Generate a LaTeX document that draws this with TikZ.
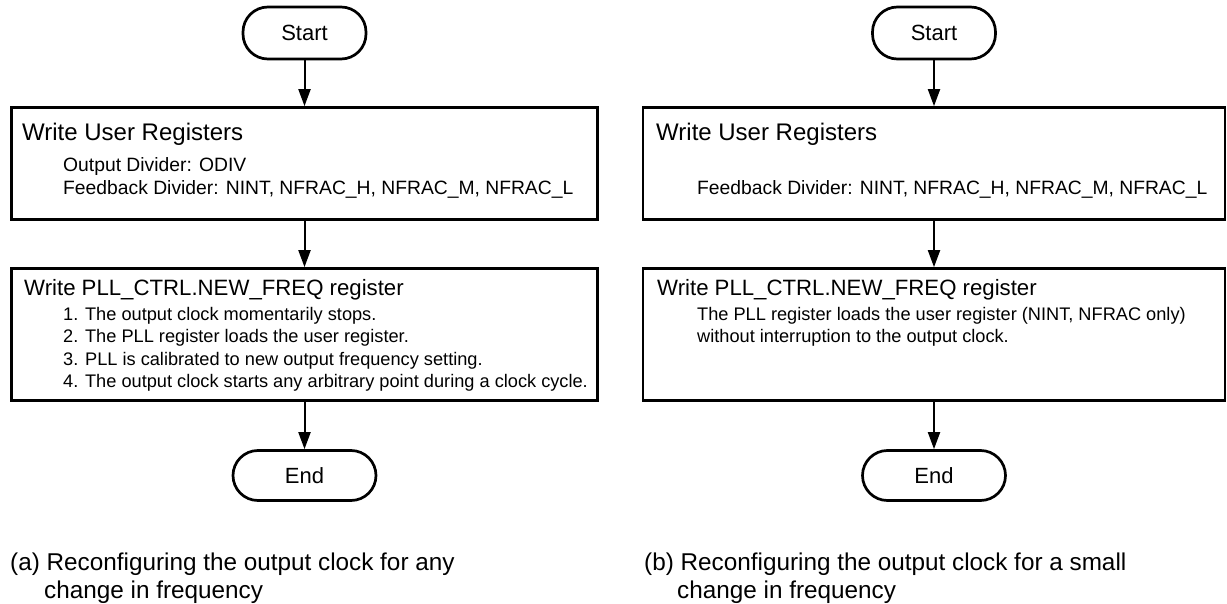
\documentclass[tikz,border=0pt]{standalone}
\usepackage{fontspec}
\setmainfont{Liberation Sans}
\usetikzlibrary{arrows.meta}
\tikzset{
  x=1pt, y=-1pt,
  pill/.style={draw, line width=2.7pt, rounded corners=25pt, inner sep=0pt,
    font=\fontsize{22}{26}\selectfont},
  stepbox/.style={draw, line width=2.7pt, inner sep=0pt},
  arr/.style={line width=2pt, -{Triangle[length=17pt,width=12pt]}},
  txt/.style={anchor=base west, inner sep=0pt},
  ttl/.style={txt, font=\fontsize{24}{28}\selectfont},
  ttlb/.style={txt, font=\fontsize{22.2}{28}\selectfont},
  body/.style={txt, font=\fontsize{18.2}{22}\selectfont},
  bodyw/.style={txt, font=\fontsize{19.3}{22}\selectfont},
  capt/.style={txt, font=\fontsize{24.3}{28}\selectfont},
}
\begin{document}
\begin{tikzpicture}
\useasboundingbox (0,0) rectangle (1227,604);
% ---------- left panel ----------
\node[pill, minimum width=123pt, minimum height=52pt] (startA) at (304.5,33) {Start};
\node[stepbox, minimum width=586pt, minimum height=112pt] (boxA1) at (304.5,163.5) {};
\node[stepbox, minimum width=586pt, minimum height=132pt] (boxA2) at (304.5,334.5) {};
\node[pill, minimum width=143pt, minimum height=50pt] (endA) at (304.5,475.5) {End};
\draw[arr] (startA) -- (boxA1);
\draw[arr] (boxA1) -- (boxA2);
\draw[arr] (boxA2) -- (endA);
\node[ttl] (tA1) at (22,140.5) {Write User Registers};
\node[bodyw] (oA) at (63,171.8) {Output Divider: ODIV};
\node[bodyw] (fA) at (63,194.8) {Feedback Divider: NINT, NFRAC\_H, NFRAC\_M, NFRAC\_L};
\node[ttlb] (tA2) at (24,295.5) {Write PLL\_CTRL.NEW\_FREQ register};
\node[body] (i1) at (63,320.6) {1. The output clock momentarily stops.};
\node[body] (i2) at (63,342.8) {2. The PLL register loads the user register.};
\node[body] (i3) at (63,365.4) {3. PLL is calibrated to new output frequency setting.};
\node[body] (i4) at (63,387.8) {4. The output clock starts any arbitrary point during a clock cycle.};
\node[capt] (cA1) at (10,570.6) {(a) Reconfiguring the output clock for any};
\node[capt] (cA2) at (44,598.4) {change in frequency};
% ---------- right panel ----------
\node[pill, minimum width=123pt, minimum height=52pt] (startB) at (934,33) {Start};
\node[stepbox, minimum width=582pt, minimum height=112pt] (boxB1) at (934,163.5) {};
\node[stepbox, minimum width=582pt, minimum height=132pt] (boxB2) at (934,334.5) {};
\node[pill, minimum width=143pt, minimum height=50pt] (endB) at (934,475.5) {End};
\draw[arr] (startB) -- (boxB1);
\draw[arr] (boxB1) -- (boxB2);
\draw[arr] (boxB2) -- (endB);
\node[ttl] (tB1) at (656,140.5) {Write User Registers};
\node[bodyw] (fB) at (697,194.8) {Feedback Divider: NINT, NFRAC\_H, NFRAC\_M, NFRAC\_L};
\node[ttlb] (tB2) at (657,295.5) {Write PLL\_CTRL.NEW\_FREQ register};
\node[body] (b1) at (697,320.6) {The PLL register loads the user register (NINT, NFRAC only)};
\node[body] (b2) at (697,342.8) {without interruption to the output clock.};
\node[capt] (cB1) at (644,570.6) {(b) Reconfiguring the output clock for a small};
\node[capt] (cB2) at (677,598.4) {change in frequency};
\end{tikzpicture}
\end{document}
